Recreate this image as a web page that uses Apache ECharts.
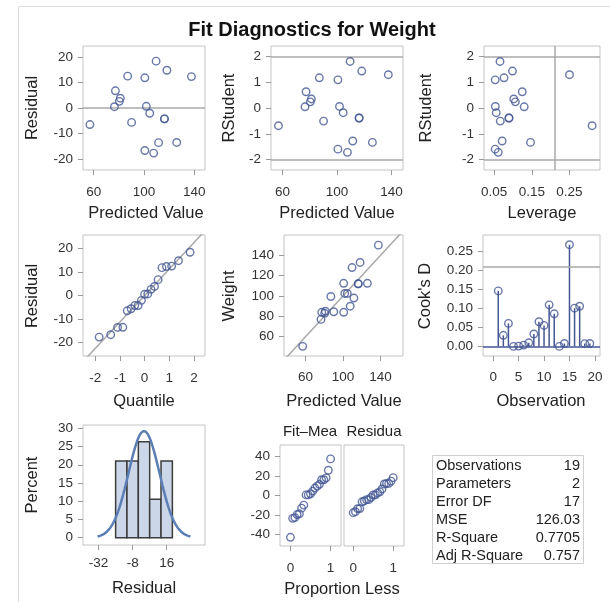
<!DOCTYPE html>
<html><head><meta charset="utf-8">
<script src="https://cdn.jsdelivr.net/npm/echarts@6/dist/echarts.min.js"></script>
<style>html,body{margin:0;padding:0;background:#fff}#c{width:610px;height:602px}</style>
</head><body><div id="c"></div><script>
// ---- data ----
const observation = [1,2,3,4,5,6,7,8,9,10,11,12,13,14,15,16,17,18,19];
const weight = [112.5,84,98,102.5,102.5,83,84.5,112.5,84,99.5,50.5,90,77,112,150,128,133,85,112];
const predicted = [126.006,77.268,111.580,101.832,104.561,80.387,90.135,100.662,100.662,87.016,56.993,107.681,76.488,116.258,137.703,109.630,118.208,81.167,116.258];
const residual = [-13.506,6.732,-13.580,0.668,-2.061,2.613,-5.635,11.838,-16.662,12.484,-6.493,-17.681,0.512,-4.258,12.297,18.370,14.792,3.833,-4.258];
const rstudent = [-1.332,0.629,-1.278,0.059,-0.183,0.239,-0.508,1.089,-1.592,1.169,-0.685,-1.716,0.047,-0.387,1.289,1.801,1.430,0.351,-0.387];
const leverage = [0.1465,0.1246,0.0712,0.0531,0.0555,0.1063,0.0662,0.0527,0.0527,0.0762,0.3101,0.0608,0.1297,0.0893,0.2500,0.0655,0.0986,0.1021,0.0893];
const cooksD = [0.1455,0.0292,0.0604,0.0001,0.0010,0.0036,0.0096,0.0326,0.0647,0.0552,0.1090,0.0855,0.0002,0.0077,0.2666,0.1003,0.1053,0.0074,0.0077];
const normalQuantile = [-1.845,-1.376,-1.097,-0.884,-0.705,-0.547,-0.401,-0.263,-0.130,0,0.130,0.263,0.401,0.547,0.705,0.884,1.097,1.376,1.845];
const sortedResidual = [-17.681,-16.662,-13.580,-13.506,-6.493,-5.635,-4.258,-4.258,-2.061,0.512,0.668,2.613,3.833,6.732,11.838,12.297,12.484,14.792,18.370];
const proportionLess = [0,0.0556,0.1111,0.1667,0.2222,0.2778,0.3333,0.3889,0.4444,0.5,0.5556,0.6111,0.6667,0.7222,0.7778,0.8333,0.8889,0.9444,1];
const fitMinusMean = [-43.033,-23.538,-22.758,-19.639,-18.859,-13.010,-9.891,0.636,0.636,1.806,4.535,7.655,9.604,11.554,16.232,16.232,18.182,25.980,37.677];
const binMidpoints = [-16,-8,0,8,16];
const binPercent = [21.05,21.05,26.32,10.53,21.05];
const binWidth = 8;
const residualSD = 10.91;
const statLabels = ['Observations','Parameters','Error DF','MSE','R-Square','Adj R-Square'];
const statValues = ['19','2','17','126.03','0.7705','0.757'];
const MSE = 126.03;
const rstudentCutoff = 2;
const leverageCutoff = 0.2105;
const cooksCutoff = 0.2105;

// ---- styles ----
const FONT = 'Liberation Sans, Arial, Helvetica, sans-serif';
const BLUE = '#445694';
const REF = '#a9a9a9';
const FRAME = '#c4c4c4';

const grids = [
  {left:83, top:46, width:122, height:124},
  {left:271,top:46, width:132, height:124},
  {left:484,top:46, width:116, height:124},
  {left:83, top:235,width:122, height:121},
  {left:284,top:235,width:119, height:121},
  {left:483,top:235,width:117, height:121},
  {left:83, top:425,width:122, height:120},
  {left:280,top:445,width:61,  height:101},
  {left:344,top:445,width:60,  height:101}
].map(g => Object.assign({show:true, borderColor:FRAME, borderWidth:1, backgroundColor:'#fff'}, g));

function ax(gi, min, max, ticks, opts) {
  opts = opts || {};
  return {
    type:'value', gridIndex:gi, min:min, max:max, scale:true,
    axisLine:{show:false, onZero:false}, splitLine:{show:false},
    axisTick:{show:ticks.length>0, customValues:ticks, length:5, lineStyle:{color:'#9a9a9a', width:1}},
    axisLabel:{show:opts.noLabel?false:true, customValues:ticks, margin:opts.margin||10, fontSize:13.5, color:'#333', fontFamily:FONT, formatter:opts.fmt}
  };
}
const f2 = v => v.toFixed(2);
const xAxes = [
  ax(0, 51.5, 148.5, [60,100,140], {margin:15}),
  ax(1, 51.5, 148.5, [60,100,140], {margin:15}),
  ax(2, 0.023, 0.331, [0.05,0.15,0.25], {margin:15, fmt:f2}),
  ax(3, -2.5, 2.45, [-2,-1,0,1,2], {margin:15}),
  ax(4, 37, 164, [60,100,140], {margin:14}),
  ax(5, -2, 21, [0,5,10,15,20], {margin:14}),
  ax(6, -43, 43, [-32,-8,16], {margin:11}),
  ax(7, -0.26, 1.26, [0,1], {margin:15}),
  ax(8, -0.23, 1.27, [0,1], {margin:15})
];
const yAxes = [
  ax(0, -24.3, 24.3, [-20,-10,0,10,20]),
  ax(1, -2.4, 2.4, [-2,-1,0,1,2]),
  ax(2, -2.4, 2.4, [-2,-1,0,1,2]),
  ax(3, -25.7, 25.7, [-20,-10,0,10,20]),
  ax(4, 41, 160, [60,80,100,120,140]),
  ax(5, -0.025, 0.292, [0,0.05,0.10,0.15,0.20,0.25], {fmt:f2}),
  ax(6, -2, 30.9, [0,5,10,15,20,25,30]),
  ax(7, -52, 52, [-40,-20,0,20,40]),
  ax(8, -52, 52, [-40,-20,0,20,40], {noLabel:true})
];
yAxes[8].axisTick.show = false;

const zip = (a,b) => a.map((v,i)=>[v,b[i]]);
function scatter(gi, data) {
  return {type:'scatter', xAxisIndex:gi, yAxisIndex:gi, data:data, symbol:'circle', symbolSize:7.5,
    itemStyle:{color:'rgba(0,0,0,0)', borderColor:BLUE, borderWidth:1.4}, silent:true, z:5};
}
function refLines(items) {
  return {silent:true, symbol:'none', label:{show:false}, animation:false,
    lineStyle:{color:REF, type:'solid', width:1.5}, data:items};
}
const series = [];
const s0 = scatter(0, zip(predicted, residual)); s0.markLine = refLines([{yAxis:0}]); series.push(s0);
const s1 = scatter(1, zip(predicted, rstudent)); s1.markLine = refLines([{yAxis:rstudentCutoff},{yAxis:-rstudentCutoff}]); series.push(s1);
const s2 = scatter(2, zip(leverage, rstudent)); s2.markLine = refLines([{yAxis:rstudentCutoff},{yAxis:-rstudentCutoff},{xAxis:leverageCutoff}]); series.push(s2);
const rootMSE = Math.sqrt(MSE);
series.push({type:'line', xAxisIndex:3, yAxisIndex:3, data:[[-3,-3*rootMSE],[3,3*rootMSE]], showSymbol:false, clip:true, silent:true,
  lineStyle:{color:REF, width:1.5}, z:2});
series.push(scatter(3, zip(normalQuantile, sortedResidual)));
series.push({type:'line', xAxisIndex:4, yAxisIndex:4, data:[[0,0],[200,200]], showSymbol:false, clip:true, silent:true,
  lineStyle:{color:REF, width:1.5}, z:2});
series.push(scatter(4, zip(predicted, weight)));
series.push({type:'custom', xAxisIndex:5, yAxisIndex:5, data:zip(observation, cooksD), silent:true, z:3,
  renderItem:(params, api) => {
    const p0 = api.coord([api.value(0), 0]);
    const p1 = api.coord([api.value(0), api.value(1)]);
    return {type:'line', shape:{x1:p0[0], y1:p0[1], x2:p1[0], y2:p1[1]}, style:{stroke:BLUE, lineWidth:1.5}};
  }});
const s5 = scatter(5, zip(observation, cooksD));
s5.markLine = {silent:true, symbol:'none', label:{show:false}, data:[
  {yAxis:cooksCutoff, lineStyle:{color:REF, type:'solid', width:1.5}},
  {yAxis:0, lineStyle:{color:BLUE, type:'solid', width:1.5}}]};
series.push(s5);
series.push({type:'custom', xAxisIndex:6, yAxisIndex:6, data:zip(binMidpoints, binPercent), silent:true, z:2,
  renderItem:(params, api) => {
    const tl = api.coord([api.value(0) - binWidth/2, api.value(1)]);
    const br = api.coord([api.value(0) + binWidth/2, 0]);
    return {type:'rect', shape:{x:tl[0], y:tl[1], width:br[0]-tl[0], height:br[1]-tl[1]},
      style:{fill:'#cbd6e8', stroke:'#3c3c3c', lineWidth:1.5}};
  }});
const curve = [];
for (let i = 0; i <= 120; i++) {
  const x = -3*residualSD + i * (6*residualSD/120);
  const y = 100 * binWidth * Math.exp(-0.5*(x/residualSD)*(x/residualSD)) / (residualSD*Math.sqrt(2*Math.PI));
  curve.push([x, y]);
}
series.push({type:'line', xAxisIndex:6, yAxisIndex:6, data:curve, showSymbol:false, smooth:false, silent:true, z:4,
  lineStyle:{color:'#5b7fb4', width:2.5}});
series.push(scatter(7, zip(proportionLess, fitMinusMean)));
series.push(scatter(8, zip(proportionLess, sortedResidual)));

const AT = 16.5;
const txt = (x, y, s, o) => Object.assign({type:'text', x:x, y:y, silent:true,
  style:Object.assign({text:s, fontSize:AT, fontFamily:FONT, fill:'#222', align:'center', verticalAlign:'middle'}, o||{})});
const vtxt = (x, y, s) => ({type:'text', x:x, y:y, rotation:Math.PI/2, silent:true,
  style:{text:s, fontSize:AT, fontFamily:FONT, fill:'#222', align:'center', verticalAlign:'middle'}});
const graphic = [
  {type:'rect', shape:{x:18.5, y:6.5, width:600, height:600}, style:{fill:'none', stroke:'#dcdcdc', lineWidth:1}, silent:true, z:-10},
  txt(312, 30, 'Fit Diagnostics for Weight', {fontSize:20, fontWeight:'bold', fill:'#111'}),
  vtxt(32, 108, 'Residual'), txt(146, 213, 'Predicted Value'),
  vtxt(229, 108, 'RStudent'), txt(337, 213, 'Predicted Value'),
  vtxt(426, 108, 'RStudent'), txt(542, 213, 'Leverage'),
  vtxt(32, 296, 'Residual'), txt(144, 401, 'Quantile'),
  vtxt(229, 296, 'Weight'), txt(344, 401, 'Predicted Value'),
  vtxt(425, 296, "Cook's D"), txt(541, 401, 'Observation'),
  vtxt(32, 485, 'Percent'), txt(144, 588, 'Residual'),
  txt(342, 589, 'Proportion Less'),
  txt(310, 432, 'Fit–Mea', {fontSize:15}), txt(374, 432, 'Residua', {fontSize:15}),
  {type:'rect', shape:{x:432.5, y:455.5, width:151, height:108}, style:{fill:'#fff', stroke:'#cfcfcf', lineWidth:1}, silent:true}
];
statLabels.forEach((s, i) => {
  graphic.push(txt(436, 466 + i*18, s, {align:'left', fontSize:14.5}));
  graphic.push(txt(580, 466 + i*18, statValues[i], {align:'right', fontSize:14.5}));
});

const chart = echarts.init(document.getElementById('c'), null, {renderer:'canvas'});
chart.setOption({animation:false, backgroundColor:'#fff', grid:grids, xAxis:xAxes, yAxis:yAxes, series:series, graphic:graphic});
</script></body></html>
